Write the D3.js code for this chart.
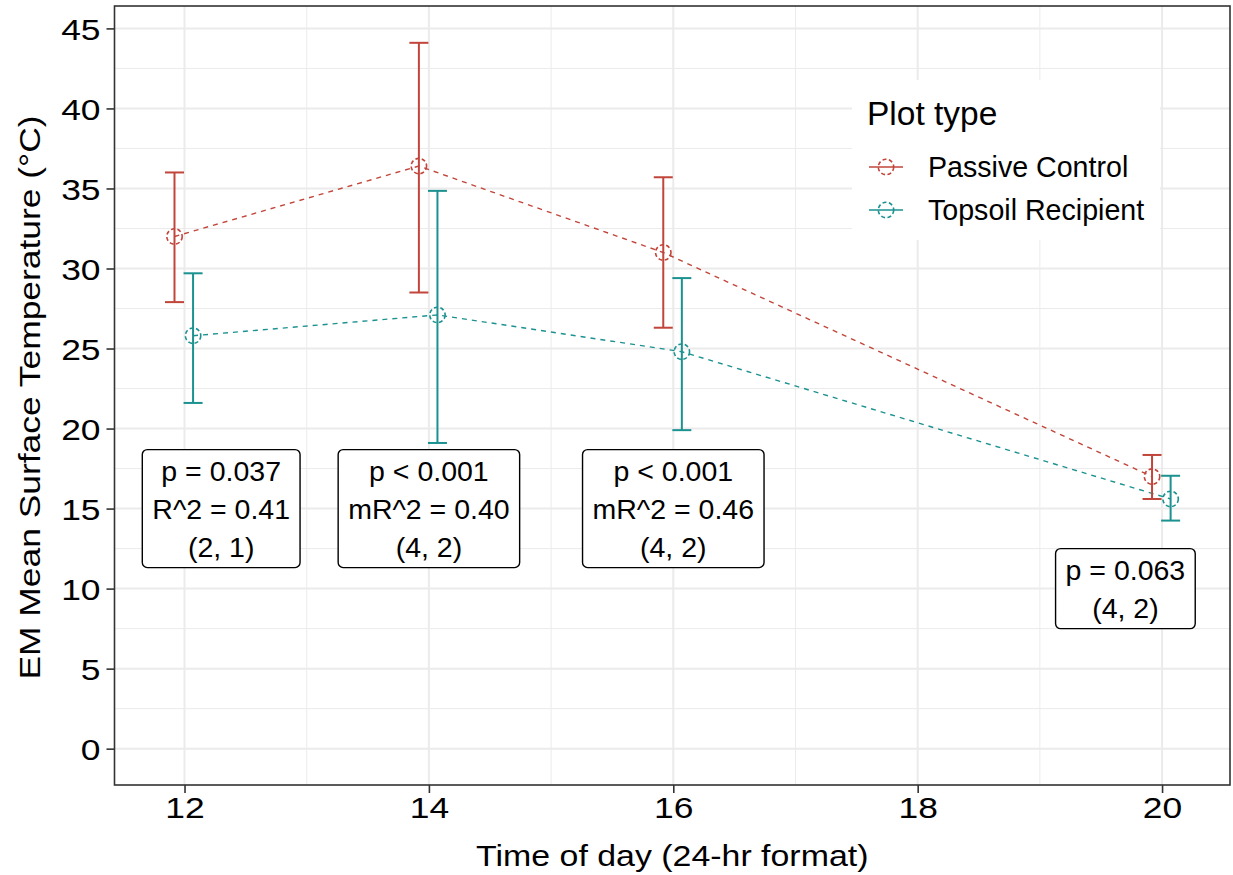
<!DOCTYPE html>
<html>
<head>
<meta charset="utf-8">
<script src="https://cdn.jsdelivr.net/npm/d3@7"></script>
<style>
  html, body { margin: 0; padding: 0; background: #ffffff; }
  svg text { font-family: "Liberation Sans", Arial, sans-serif; fill: #000; }
</style>
</head>
<body>
<svg id="chart" width="1233" height="875"></svg>
<script>
// Sampling hours (24-hr clock)
const hours = [12, 14, 16, 20];

// Plot types, in legend order
const groups = ["Passive Control", "Topsoil Recipient"];

// Estimated marginal means and interval limits (°C)
const passiveMean  = [32.0, 36.4, 31.0, 17.0];
const passiveLower = [27.9, 28.5, 26.3, 15.6];
const passiveUpper = [36.0, 44.1, 35.7, 18.35];

const topsoilMean  = [25.8, 27.1, 24.8, 15.6];
const topsoilLower = [21.6, 19.1, 19.9, 14.25];
const topsoilUpper = [29.7, 34.85, 29.4, 17.05];

// Model summaries shown at each sampling hour
const statX = [12.3, 14, 16, 19.7];
const statY = [15, 15, 15, 10];
const statLines = [
  ["p = 0.037", "R^2 = 0.41", "(2, 1)"],
  ["p < 0.001", "mR^2 = 0.40", "(4, 2)"],
  ["p < 0.001", "mR^2 = 0.46", "(4, 2)"],
  ["p = 0.063", "(4, 2)"]
];

// Axis ticks
const xTicks = [12, 14, 16, 18, 20];
const xMinor = [13, 15, 17, 19];
const yTicks = [0, 5, 10, 15, 20, 25, 30, 35, 40, 45];
const yMinor = [2.5, 7.5, 12.5, 17.5, 22.5, 27.5, 32.5, 37.5, 42.5];

const colors = { "Passive Control": "#C1453A", "Topsoil Recipient": "#1B9190" };
const dodge  = { "Passive Control": -0.082, "Topsoil Recipient": 0.07 };

const series = [
  { name: groups[0], mean: passiveMean, lower: passiveLower, upper: passiveUpper },
  { name: groups[1], mean: topsoilMean, lower: topsoilLower, upper: topsoilUpper }
].map(s => ({
  name: s.name,
  pts: hours.map((h, i) => ({ h, x: h + dodge[s.name], m: s.mean[i], lo: s.lower[i], hi: s.upper[i] }))
}));

const svg = d3.select("#chart");
const panel = { left: 114.5, right: 1230, top: 6, bottom: 785 };

const x = d3.scaleLinear().domain([11.427, 20.556]).range([panel.left, panel.right]);
const y = d3.scaleLinear().domain([-2.27, 46.4]).range([panel.bottom, panel.top]);

// Panel background and grid
svg.append("rect")
  .attr("x", panel.left).attr("y", panel.top)
  .attr("width", panel.right - panel.left).attr("height", panel.bottom - panel.top)
  .attr("fill", "#fff");

const grid = svg.append("g");
grid.selectAll(".ymin").data(yMinor).join("line")
  .attr("x1", panel.left).attr("x2", panel.right)
  .attr("y1", d => y(d)).attr("y2", d => y(d))
  .attr("stroke", "#EBEBEB").attr("stroke-width", 1);
grid.selectAll(".xmin").data(xMinor).join("line")
  .attr("y1", panel.top).attr("y2", panel.bottom)
  .attr("x1", d => x(d)).attr("x2", d => x(d))
  .attr("stroke", "#EBEBEB").attr("stroke-width", 1);
grid.selectAll(".ymaj").data(yTicks).join("line")
  .attr("x1", panel.left).attr("x2", panel.right)
  .attr("y1", d => y(d)).attr("y2", d => y(d))
  .attr("stroke", "#EBEBEB").attr("stroke-width", 2);
grid.selectAll(".xmaj").data(xTicks).join("line")
  .attr("y1", panel.top).attr("y2", panel.bottom)
  .attr("x1", d => x(d)).attr("x2", d => x(d))
  .attr("stroke", "#EBEBEB").attr("stroke-width", 2);

// Dashed trend lines
const line = d3.line().x(d => x(d.x)).y(d => y(d.m));
svg.append("g").selectAll("path").data(series).join("path")
  .attr("d", s => line(s.pts))
  .attr("fill", "none")
  .attr("stroke", s => colors[s.name])
  .attr("stroke-width", 1.4)
  .attr("stroke-dasharray", "5,5");

// Error bars
const capHalf = 9.5;
series.forEach(s => {
  const g = svg.append("g").attr("stroke", colors[s.name]).attr("stroke-width", 2).attr("fill", "none");
  g.selectAll(".v").data(s.pts).join("line")
    .attr("x1", d => x(d.x)).attr("x2", d => x(d.x))
    .attr("y1", d => y(d.lo)).attr("y2", d => y(d.hi));
  g.selectAll(".t").data(s.pts).join("line")
    .attr("x1", d => x(d.x) - capHalf).attr("x2", d => x(d.x) + capHalf)
    .attr("y1", d => y(d.hi)).attr("y2", d => y(d.hi));
  g.selectAll(".b").data(s.pts).join("line")
    .attr("x1", d => x(d.x) - capHalf).attr("x2", d => x(d.x) + capHalf)
    .attr("y1", d => y(d.lo)).attr("y2", d => y(d.lo));
});

// Hollow points
series.forEach(s => {
  svg.append("g").selectAll("circle").data(s.pts).join("circle")
    .attr("cx", d => x(d.x)).attr("cy", d => y(d.m)).attr("r", 7.7)
    .attr("fill", "none")
    .attr("stroke", colors[s.name])
    .attr("stroke-width", 1.6)
    .attr("stroke-dasharray", "4,2.5");
});

// Annotation labels
const labFont = 28.5, labLine = 38, labPad = 10;
statX.forEach((sx, i) => {
  const lines = statLines[i];
  const g = svg.append("g").attr("transform", `translate(${x(sx)},${y(statY[i])})`);
  const rect = g.append("rect");
  const t = g.append("text").attr("text-anchor", "middle").style("font-size", labFont + "px");
  const n = lines.length;
  lines.forEach((l, k) => {
    t.append("tspan").attr("x", 0)
      .attr("y", (k - (n - 1) / 2) * labLine)
      .attr("dy", "0.35em")
      .text(l);
  });
  const w = t.node().getBBox().width + 2 * labPad;
  const h = n * labLine + 4;
  rect.attr("x", -w / 2).attr("y", -h / 2).attr("width", w).attr("height", h)
    .attr("rx", 5).attr("ry", 5)
    .attr("fill", "#fff").attr("stroke", "#000").attr("stroke-width", 1.4);
});

// Panel border
svg.append("rect")
  .attr("x", panel.left).attr("y", panel.top)
  .attr("width", panel.right - panel.left).attr("height", panel.bottom - panel.top)
  .attr("fill", "none").attr("stroke", "#333333").attr("stroke-width", 1.6);

// Axes
const tickStretch = 1.2;
const yAxis = svg.append("g")
  .attr("transform", `translate(${panel.left},0)`)
  .call(d3.axisLeft(y).tickValues(yTicks).tickSize(8).tickPadding(5));
const xAxis = svg.append("g")
  .attr("transform", `translate(0,${panel.bottom})`)
  .call(d3.axisBottom(x).tickValues(xTicks).tickSize(8).tickPadding(5));
[yAxis, xAxis].forEach(a => {
  a.select(".domain").remove();
  a.selectAll(".tick line").attr("stroke", "#333333").attr("stroke-width", 1.6);
  a.selectAll(".tick text").style("font-size", "29.5px").style("font-family", null).attr("fill", "#000");
});
yAxis.selectAll(".tick text")
  .attr("x", -14 / tickStretch).attr("dy", "0.36em")
  .attr("transform", `scale(${tickStretch},1)`);
xAxis.selectAll(".tick text")
  .attr("y", 12).attr("dy", "0.71em")
  .attr("transform", `scale(${tickStretch},1)`);

// Axis titles
svg.append("text")
  .attr("transform", `translate(${(panel.left + panel.right) / 2},866) scale(1.13,1)`)
  .attr("text-anchor", "middle")
  .style("font-size", "30px")
  .text("Time of day (24-hr format)");
svg.append("text")
  .attr("transform", `translate(40,${(panel.top + panel.bottom) / 2 + 2}) rotate(-90) scale(1.18,1)`)
  .attr("text-anchor", "middle")
  .style("font-size", "30px")
  .text("EM Mean Surface Temperature (°C)");

// Legend
const leg = svg.append("g").attr("transform", "translate(852,80)");
leg.append("rect").attr("width", 308).attr("height", 160).attr("fill", "#fff");
leg.append("text").attr("x", 15).attr("y", 45).style("font-size", "33.5px").text("Plot type");
groups.forEach((gname, i) => {
  const cy = 87 + i * 43;
  leg.append("line").attr("x1", 17).attr("x2", 51).attr("y1", cy).attr("y2", cy)
    .attr("stroke", colors[gname]).attr("stroke-width", 1.4);
  leg.append("circle").attr("cx", 34).attr("cy", cy).attr("r", 7.7)
    .attr("fill", "none").attr("stroke", colors[gname]).attr("stroke-width", 1.6)
    .attr("stroke-dasharray", "4,2.5");
  leg.append("text").attr("x", 76).attr("y", cy).attr("dy", "0.36em")
    .style("font-size", "28.6px").text(gname);
});
</script>
</body>
</html>
